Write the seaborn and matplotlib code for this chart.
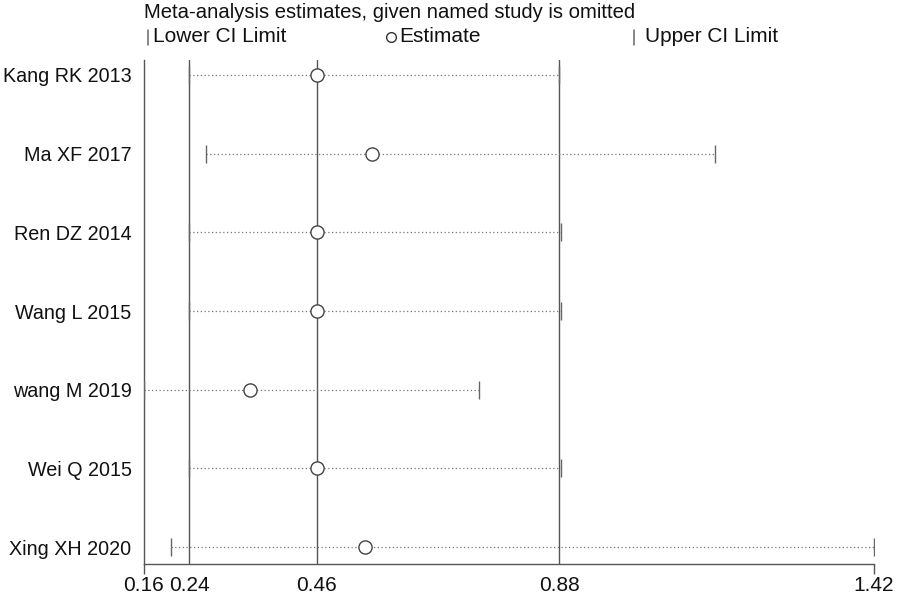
import matplotlib
matplotlib.use("Agg")
import matplotlib.pyplot as plt
from matplotlib.lines import Line2D
import seaborn as sns
import pandas as pd

studies = ["Kang RK 2013", "Ma XF 2017", "Ren DZ 2014", "Wang L 2015",
           "wang M 2019", "Wei Q 2015", "Xing XH 2020"]
lower = [0.236, 0.265, 0.236, 0.236, 0.158, 0.236, 0.204]
estimate = [0.456, 0.551, 0.456, 0.456, 0.341, 0.456, 0.540]
upper = [0.875, 1.143, 0.878, 0.878, 0.736, 0.878, 1.418]
ref_lines = [0.236, 0.456, 0.875]
x_min, x_max = 0.158, 1.418
minor_ticks = [0.236, 0.456, 0.875]
minor_labels = ["0.24", "0.46", "0.88"]
major_ticks = [0.158, 1.418]
major_labels = ["0.16", "1.42"]

sns.set_style("white")
plt.rcParams["font.family"] = ["Liberation Sans", "DejaVu Sans"]

df = pd.DataFrame({"study": studies, "lower": lower, "est": estimate, "upper": upper})
n = len(studies)
df["ypos"] = list(range(n, 0, -1))

W, H = 899, 595
fig = plt.figure(figsize=(W / 100, H / 100), dpi=100)
ax = fig.add_axes([144 / W, 1 - 564 / H, (874 - 144) / W, (564 - 60) / H])

gray = "#555555"
for r in ref_lines:
    ax.axvline(r, color=gray, lw=1.0, zorder=1)

for _, row in df.iterrows():
    ax.plot([row["lower"], row["upper"]], [row["ypos"], row["ypos"]],
            ls=(0, (1, 2)), color="#777777", lw=0.9, zorder=2)
sns.scatterplot(data=df, x="lower", y="ypos", marker="|", s=150, color="#666666",
                linewidth=1.0, ax=ax, zorder=3, legend=False)
sns.scatterplot(data=df, x="upper", y="ypos", marker="|", s=150, color="#666666",
                linewidth=1.0, ax=ax, zorder=3, legend=False)
sns.scatterplot(data=df, x="est", y="ypos", marker="o", s=90, facecolor="white",
                edgecolor="#444444", linewidth=1.0, ax=ax, zorder=4, legend=False)

ax.set_xlim(x_min, x_max)
ax.set_ylim(1 - 17 / 78.67, n + 15 / 78.67)
ax.set_yticks(df["ypos"])
ax.set_yticklabels(df["study"], fontsize=14.2, color="#111111")
ax.tick_params(axis="y", length=0, pad=9)

ax.set_xticks(major_ticks)
ax.set_xticklabels(major_labels, fontsize=15, color="#111111")
ax.set_xticks(minor_ticks, minor=True)
ax.set_xticklabels(minor_labels, minor=True, fontsize=15, color="#111111")
ax.tick_params(axis="x", which="major", length=7, width=1.0, color=gray, pad=1.5, direction="out", bottom=True)
ax.tick_params(axis="x", which="minor", length=0, pad=8.5, bottom=True)
ax.set_xlabel("")
ax.set_ylabel("")

for s in ["top", "right"]:
    ax.spines[s].set_visible(False)
for s in ["left", "bottom"]:
    ax.spines[s].set_color(gray)
    ax.spines[s].set_linewidth(1.0)

def fx(px):
    return px / W

def fy(py):
    return 1 - py / H

fig.text(fx(144), fy(12), "Meta-analysis estimates, given named study is omitted",
         fontsize=14.6, va="center", ha="left", color="#111111")
fig.text(fx(153), fy(37), "Lower CI Limit", fontsize=15, va="center", ha="left", color="#111111")
fig.text(fx(399), fy(37), "Estimate", fontsize=15, va="center", ha="left", color="#111111")
fig.text(fx(645), fy(37), "Upper CI Limit", fontsize=15, va="center", ha="left", color="#111111")
fig.add_artist(Line2D([fx(148), fx(148)], [fy(30), fy(45)], color="#666666", lw=1.1))
fig.add_artist(Line2D([fx(634), fx(634)], [fy(30), fy(45)], color="#666666", lw=1.1))
fig.add_artist(Line2D([fx(391)], [fy(37)], marker="o", markersize=7, markerfacecolor="white",
                      markeredgecolor="#333333", markeredgewidth=1.0, ls="none"))

fig.savefig("out.png", dpi=100, facecolor="white")
